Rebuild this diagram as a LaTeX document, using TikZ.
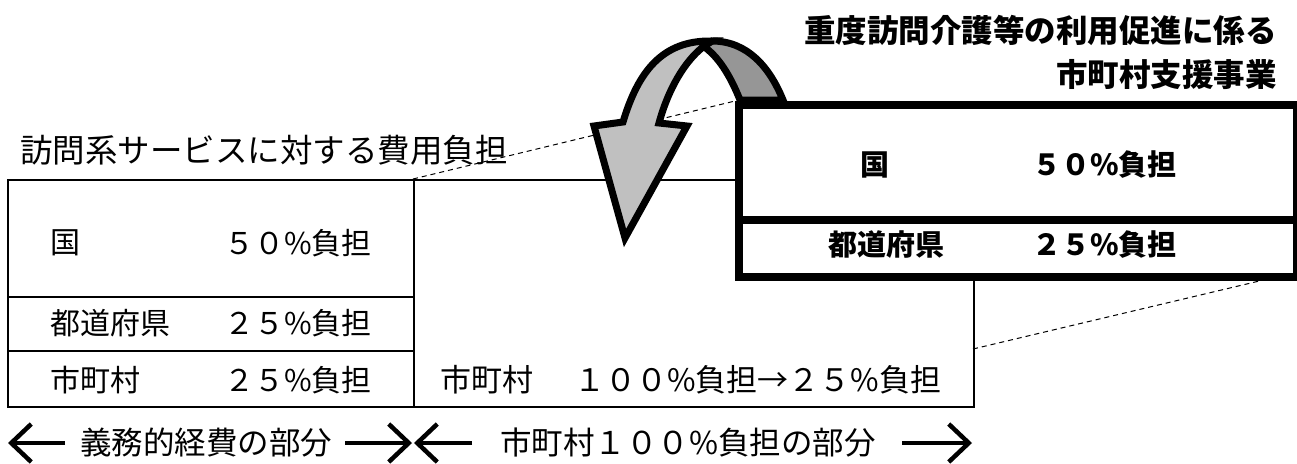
\documentclass[tikz,border=0pt]{standalone}
\usepackage{fontspec}
\newfontfamily\jp{Noto Sans CJK JP}
\usetikzlibrary{arrows.meta,calc}
\begin{document}
\begin{tikzpicture}[x=1pt,y=-1pt,
  txt/.style={font=\jp\fontsize{30}{30}\selectfont, inner sep=0},
  midtxt/.style={font=\jp\fontsize{31}{31}\selectfont, inner sep=0},
  ttl/.style={font=\jp\fontsize{32.5}{32.5}\selectfont, inner sep=0},
  stxt/.style={font=\jp\fontsize{31.5}{31.5}\selectfont, inner sep=0},
  btxt/.style={font=\jp\bfseries\fontsize{29}{29}\selectfont, inner sep=0},
  btitle/.style={font=\jp\bfseries\fontsize{31.5}{31.5}\selectfont, inner sep=0},
  thinbox/.style={draw, line width=2pt, inner sep=0, anchor=north west},
  boldbox/.style={draw, line width=8pt, fill=white, inner sep=0, anchor=north west},
  dashline/.style={line width=1pt, dash pattern=on 5pt off 4pt},
  ribbon/.style={draw=black, line width=7pt, line join=miter},
  spanarrow/.style={line width=4.5pt, -{Straight Barb[length=20pt,width=38pt]}}]
\useasboundingbox (0,0) rectangle (1297,463);
\definecolor{lightribbon}{HTML}{C0C0C0}
\definecolor{darkribbon}{HTML}{969696}

% left box
\node[thinbox, minimum width=406pt, minimum height=117pt] (kuni) at (7,179) {};
\node[thinbox, minimum width=406pt, minimum height=54pt] (pref) at (7,296) {};
\node[thinbox, minimum width=406pt, minimum height=56pt] (muni) at (7,350) {};
% middle box
\node[thinbox, minimum width=560pt, minimum height=227pt] (mid) at (413,179) {};

% texts of left box
\node[txt, anchor=west] (t1) at (50,243) {国};
\node[txt, anchor=east] (t2) at (372,243) {５０\%負担};
\node[txt, anchor=west] (t3) at (50,323) {都道府県};
\node[txt, anchor=east] (t4) at (372,323) {２５\%負担};
\node[txt, anchor=west] (t5) at (50,380) {市町村};
\node[txt, anchor=east] (t6) at (372,380) {２５\%負担};
\node[midtxt, anchor=west] (t7) at (440,380) {市町村　\hspace{10pt}１００\%負担→２５\%負担};

\node[ttl, anchor=west] (lt) at (20,150) {訪問系サービスに対する費用負担};

% dashed lines
\coordinate (dA) at (mid.north west);
\coordinate (dB) at (973,349);
\coordinate (eA) at (735,101);
\coordinate (eB) at (1293,273);
\draw[dashline] (dA) -- (eA);
\draw[dashline] (dB) -- (eB);

% curved arrow
\draw[ribbon, fill=darkribbon] (740,100) .. controls (730,75) and (718,56) .. (703,46)
  -- (712,41) .. controls (748,41) and (770,68) .. (783,100) -- cycle;
\draw[ribbon, fill=lightribbon] (712,41) .. controls (662,40) and (638,72) .. (623,122)
  -- (594,126) -- (625,238) -- (687,126) -- (659,123)
  .. controls (668,90) and (684,62) .. (703,47) -- cycle;

% bold box
\node[boldbox, minimum width=558pt, minimum height=115pt] (bk) at (735,101) {};
\node[boldbox, minimum width=558pt, minimum height=57pt] (bp) at (735,216) {};
\node[btxt, anchor=west] (b1) at (860,165) {国};
\node[btxt, anchor=east] (b2) at (1177,165) {５０\%負担};
\node[btxt, anchor=west] (b3) at (828,245) {都道府県};
\node[btxt, anchor=east] (b4) at (1177,245) {２５\%負担};

\node[btitle, anchor=east] (h1) at (1277,30) {重度訪問介護等の利用促進に係る};
\node[btitle, anchor=east] (h2) at (1277,75) {市町村支援事業};

% bottom span arrows
\coordinate (a1s) at (65,443);
\coordinate (a1e) at (8,443);
\coordinate (a2s) at (345,443);
\coordinate (a2e) at (412,443);
\coordinate (a3s) at (472,443);
\coordinate (a3e) at (414,443);
\coordinate (a4s) at (902,443);
\coordinate (a4e) at (972,443);
\draw[spanarrow] (a1s) -- (a1e);
\draw[spanarrow] (a2s) -- (a2e);
\draw[spanarrow] (a3s) -- (a3e);
\draw[spanarrow] (a4s) -- (a4e);
\node[stxt, anchor=west] (s1) at (80,443) {義務的経費の部分};
\node[stxt, anchor=west] (s2) at (500,443) {市町村１００\%負担の部分};
\end{tikzpicture}
\end{document}
